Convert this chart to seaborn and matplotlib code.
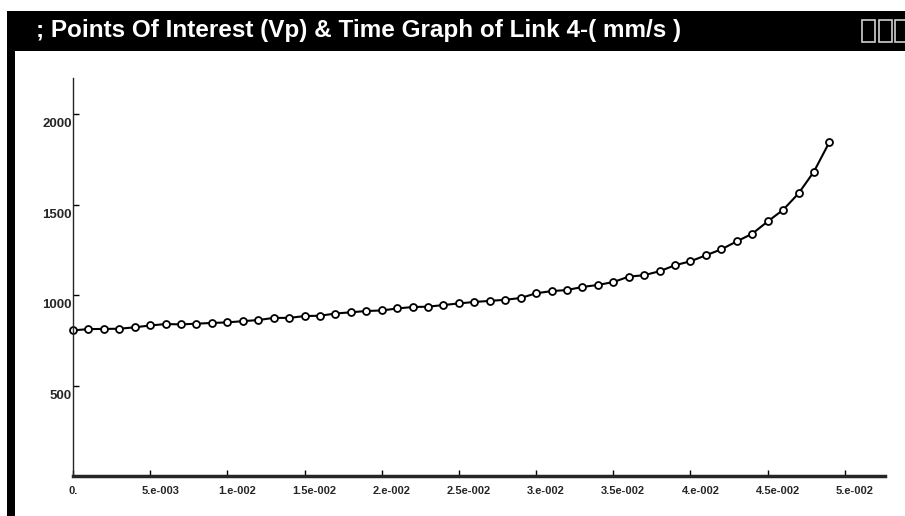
import matplotlib
matplotlib.use("Agg")
import matplotlib.pyplot as plt
import matplotlib.transforms as mtransforms
from matplotlib.patches import Rectangle
import pandas as pd
import seaborn as sns

# time (s) and velocity (mm/s) of the point of interest
time_s = [0.000, 0.001, 0.002, 0.003, 0.004, 0.005, 0.006, 0.007, 0.008, 0.009,
          0.010, 0.011, 0.012, 0.013, 0.014, 0.015, 0.016, 0.017, 0.018, 0.019,
          0.020, 0.021, 0.022, 0.023, 0.024, 0.025, 0.026, 0.027, 0.028, 0.029,
          0.030, 0.031, 0.032, 0.033, 0.034, 0.035, 0.036, 0.037, 0.038, 0.039,
          0.040, 0.041, 0.042, 0.043, 0.044, 0.045, 0.046, 0.047, 0.048, 0.049]
velocity = [805, 812, 813, 814, 822, 832, 840, 838, 842, 846,
            849, 856, 862, 874, 874, 884, 886, 898, 905, 912,
            915, 926, 934, 936, 945, 954, 962, 968, 974, 984,
            1010, 1022, 1028, 1045, 1056, 1072, 1102, 1110, 1132, 1165,
            1187, 1220, 1253, 1297, 1339, 1407, 1471, 1562, 1683, 1846]

xtick_vals = [0.0, 0.005, 0.010, 0.015, 0.020, 0.025, 0.030, 0.035, 0.040, 0.045, 0.050]
xtick_labels = ["0.", "5.e-003", "1.e-002", "1.5e-002", "2.e-002", "2.5e-002",
                "3.e-002", "3.5e-002", "4.e-002", "4.5e-002", "5.e-002"]
ytick_vals = [500, 1000, 1500, 2000]
ytick_labels = ["500", "1000", "1500", "2000"]

title = "; Points Of Interest (Vp) & Time Graph of Link 4-( mm/s )"

W, H = 905, 516

sns.set_style("ticks")
plt.rcParams["font.family"] = ["Liberation Sans", "DejaVu Sans"]

df = pd.DataFrame({"t": time_s, "v": velocity})

fig = plt.figure(figsize=(W / 100, H / 100), dpi=100)
fig.patch.set_facecolor("white")

def fx(x):
    return x / W

def fy(y):
    return 1 - y / H

# window chrome: title bar, left border and the three window buttons
fig.patches.append(Rectangle((fx(7), fy(51)), fx(905 - 7), 40 / H, transform=fig.transFigure,
                             facecolor="black", edgecolor="none", zorder=0))
fig.patches.append(Rectangle((fx(7), 0), fx(8), fy(51), transform=fig.transFigure,
                             facecolor="black", edgecolor="none", zorder=0))
for bx in [862, 879, 895]:
    fig.patches.append(Rectangle((fx(bx), fy(42)), fx(13), 22 / H, transform=fig.transFigure,
                                 facecolor="black", edgecolor="#d0d0d0", linewidth=1.2, zorder=1))
fig.text(fx(36), fy(31), title, color="white", fontsize=17.5, fontweight="bold",
         va="center", ha="left")

ax = fig.add_axes([fx(73), fy(476), fx(885 - 73), (476 - 78) / H])
sns.lineplot(data=df, x="t", y="v", ax=ax, color="black", linewidth=1.5,
             marker="o", markersize=5, markerfacecolor="white",
             markeredgecolor="black", markeredgewidth=1.3, clip_on=False)

ax.set_xlim(0, 0.0526)
ax.set_ylim(0, 2200)
ax.set(xlabel="", ylabel="")
sns.despine(ax=ax)
ax.spines["bottom"].set_linewidth(2.5)
ax.spines["left"].set_linewidth(1.0)

ax.set_xticks(xtick_vals)
ax.set_xticklabels(xtick_labels)
ax.set_yticks(ytick_vals)
ax.set_yticklabels(ytick_labels)
ax.tick_params(axis="both", direction="in", length=4, width=1, color="black")
ax.tick_params(axis="x", pad=7, labelsize=8)
ax.tick_params(axis="y", pad=1, labelsize=9.5)

shift_x = mtransforms.ScaledTranslation(10 / 100, 0, fig.dpi_scale_trans)
for lab in ax.get_xticklabels()[1:]:
    lab.set_transform(lab.get_transform() + shift_x)
shift_y = mtransforms.ScaledTranslation(0, -4 / 100, fig.dpi_scale_trans)
for lab in ax.get_yticklabels():
    lab.set_va("top")
    lab.set_transform(lab.get_transform() + shift_y)
for lab in ax.get_xticklabels() + ax.get_yticklabels():
    lab.set_fontweight("bold")

fig.savefig("out.png", dpi=100, facecolor="white")
